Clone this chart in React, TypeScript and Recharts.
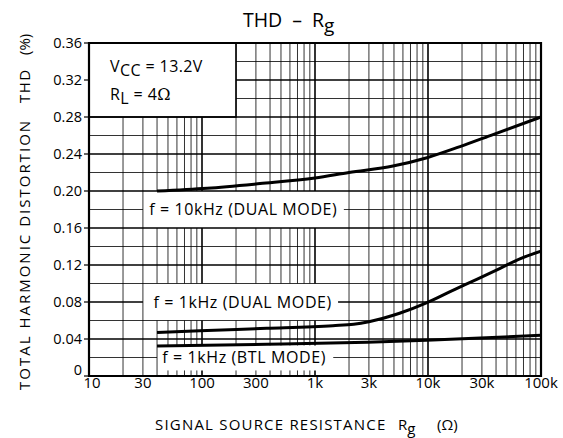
import React from 'react';
import { LineChart, Line, XAxis, YAxis, ReferenceLine, ReferenceArea, ReferenceDot } from 'recharts';

const X_TICKS = [10, 30, 100, 300, 1000, 3000, 10000, 30000, 100000];
const X_TICK_LABELS = ['10', '30', '100', '300', '1k', '3k', '10k', '30k', '100k'];
const Y_TICKS = [0, 0.04, 0.08, 0.12, 0.16, 0.2, 0.24, 0.28, 0.32, 0.36];
const Y_TICK_LABELS = ['0', '0.04', '0.08', '0.12', '0.16', '0.20', '0.24', '0.28', '0.32', '0.36'];

const RG_10K_DUAL = [40, 111, 326, 1000, 2000, 4900, 9800, 19200, 37600, 100000];
const THD_10K_DUAL = [0.2, 0.203, 0.208, 0.214, 0.22, 0.227, 0.236, 0.248, 0.261, 0.28];

const RG_1K_DUAL = [40, 96, 373, 1440, 2200, 3000, 5600, 9800, 15700, 27000, 43500, 65800, 100000];
const THD_1K_DUAL = [0.047, 0.049, 0.0515, 0.0544, 0.0559, 0.0587, 0.0678, 0.0793, 0.0912, 0.1045, 0.1164, 0.127, 0.135];

const RG_1K_BTL = [40, 373, 2900, 11000, 100000];
const THD_1K_BTL = [0.0324, 0.0342, 0.0364, 0.0389, 0.044];

const SERIES = [
  { name: 'f = 10kHz (DUAL MODE)', rg: RG_10K_DUAL, thd: THD_10K_DUAL, labelRg: 232, labelThd: 0.18 },
  { name: 'f = 1kHz (DUAL MODE)', rg: RG_1K_DUAL, thd: THD_1K_DUAL, labelRg: 229, labelThd: 0.08 },
  { name: 'f = 1kHz (BTL MODE)', rg: RG_1K_BTL, thd: THD_1K_BTL, labelRg: 236, labelThd: 0.02 },
];

const FONT = '"Open Sans", "DejaVu Sans", sans-serif';

// grid construction
const DECADES = [10, 100, 1000, 10000];
const MULTS = [1, 2, 3, 4, 5, 6, 7, 8, 9];
const V_GRID: number[] = [];
DECADES.forEach((d) => MULTS.forEach((m) => { const v = d * m; if (v > 10) V_GRID.push(v); }));
const H_GRID: number[] = [];
for (let k = 1; k <= 17; k++) H_GRID.push(Math.round(k * 2) / 100);

function vSpans(x: number): number[][] {
  if (x === 20 || x === 30) return [[0, 0.28]];
  if (x === 40) return [[0.2, 0.28], [0.1, 0.16], [0, 0.06]];
  if (x > 40 && x <= 100) return [[0.2, 0.28], [0.1, 0.16], [0.033, 0.06], [0, 0.006]];
  if (x >= 200 && x <= 1000) return [[0.2, 0.36], [0.1, 0.16], [0.033, 0.06], [0, 0.006]];
  return [[0, 0.36]];
}
function hSpans(y: number): number[][] {
  if (y > 0.285) return [[200, 100000]];
  if (Math.abs(y - 0.18) < 1e-6) return [[10, 30], [1800, 100000]];
  if (Math.abs(y - 0.08) < 1e-6) return [[10, 30], [1600, 100000]];
  if (Math.abs(y - 0.02) < 1e-6) return [[10, 40], [1450, 100000]];
  return [[10, 100000]];
}
const isDecade = (x: number) => x === 100 || x === 1000 || x === 10000;
const isMajorY = (y: number) => Math.abs(Math.round(y * 100) % 4) < 1e-6;

const renderLegend = (props: any) => {
  const vb = props.viewBox || {};
  const x = vb.x + 21;
  const y = vb.y;
  return (
    <g fontFamily={FONT} fill="#000">
      <text x={x} y={y + 29} fontSize={16} letterSpacing={0.4}>
        V<tspan dy={4}>CC</tspan><tspan dy={-4}> = 13.2V</tspan>
      </text>
      <text x={x} y={y + 57} fontSize={16} letterSpacing={0.4}>
        R<tspan dy={4}>L</tspan><tspan dy={-4}> = 4</tspan><tspan fontFamily='"DejaVu Serif", serif'>Ω</tspan>
      </text>
    </g>
  );
};

const makeCurveLabel = (text: string) => (props: any) => {
  const vb = props.viewBox || {};
  return (
    <text x={vb.x} y={vb.y} dy={5.5} textAnchor="middle" fontFamily={FONT} fontSize={16} letterSpacing={0.6} fill="#000">
      {text}
    </text>
  );
};

const YTick = (props: any) => {
  const { x, y, payload } = props;
  const i = Y_TICKS.indexOf(payload.value);
  const shift = payload.value === 0 ? -6 : 0;
  return (
    <text x={x} y={y + shift} dy={5} textAnchor="end" fontFamily={FONT} fontSize={14.5} fill="#000">
      {Y_TICK_LABELS[i]}
    </text>
  );
};

const XTick = (props: any) => {
  const { x, y, payload } = props;
  const i = X_TICKS.indexOf(payload.value);
  const shift = payload.value === 10 ? 3 : 0;
  return (
    <text x={x + shift} y={y} dy={11} textAnchor="middle" fontFamily={FONT} fontSize={15} fill="#000">
      {X_TICK_LABELS[i]}
    </text>
  );
};

export default function App() {
  const seriesData = SERIES.map((s) => s.rg.map((r, i) => ({ rg: r, thd: s.thd[i] })));
  return (
    <div style={{ position: 'absolute', left: 0, top: 0, width: 563, height: 438, background: '#fff' }}>
      <LineChart width={563} height={438} margin={{ top: 43, right: 22, bottom: 32, left: 49 }}>
        <XAxis
          type="number"
          dataKey="rg"
          scale="log"
          domain={[10, 100000]}
          ticks={X_TICKS}
          allowDataOverflow
          tickLine={false}
          tickSize={0}
          tickMargin={1}
          axisLine={false}
          height={30}
          tick={<XTick />}
          interval={0}
        />
        <YAxis
          type="number"
          dataKey="thd"
          domain={[0, 0.36]}
          ticks={Y_TICKS}
          allowDataOverflow
          width={40}
          tickSize={5}
          tickMargin={2}
          tickLine={{ stroke: '#000', strokeWidth: 1.2 }}
          axisLine={false}
          tick={<YTick />}
          interval={0}
        />
        {V_GRID.map((x) =>
          vSpans(x).map((sp, j) => (
            <ReferenceLine
              key={`v-${x}-${j}`}
              segment={[{ x, y: sp[0] }, { x, y: sp[1] }]}
              stroke="#000"
              strokeWidth={isDecade(x) ? 1.6 : 1}
              strokeOpacity={isDecade(x) ? 1 : 0.8}
              ifOverflow="visible"
            />
          ))
        )}
        {H_GRID.map((y) =>
          hSpans(y).map((sp, j) => (
            <ReferenceLine
              key={`h-${y}-${j}`}
              segment={[{ x: sp[0], y }, { x: sp[1], y }]}
              stroke="#000"
              strokeWidth={isMajorY(y) ? 1.6 : 1}
              strokeOpacity={isMajorY(y) ? 1 : 0.8}
              ifOverflow="visible"
            />
          ))
        )}
        <ReferenceArea
          x1={10}
          x2={200}
          y1={0.28}
          y2={0.36}
          fill="#fff"
          fillOpacity={1}
          stroke="#000"
          strokeWidth={1.5}
          ifOverflow="visible"
          label={renderLegend}
        />
        <ReferenceArea
          x1={10}
          x2={100000}
          y1={0}
          y2={0.36}
          fill="none"
          stroke="#000"
          strokeWidth={2.2}
          ifOverflow="visible"
        />
        {SERIES.map((s, i) => (
          <Line
            key={s.name}
            data={seriesData[i]}
            dataKey="thd"
            type="monotone"
            stroke="#000"
            strokeWidth={3}
            dot={false}
            activeDot={false}
            isAnimationActive={false}
          />
        ))}
        {SERIES.map((s) => (
          <ReferenceDot
            key={`lbl-${s.name}`}
            x={s.labelRg}
            y={s.labelThd}
            r={0}
            fill="none"
            stroke="none"
            ifOverflow="visible"
            label={makeCurveLabel(s.name)}
          />
        ))}
      </LineChart>
      <svg
        width={563}
        height={438}
        style={{ position: 'absolute', left: 0, top: 0, pointerEvents: 'none' }}
        fontFamily={FONT}
      >
        <text x={243} y={27} fontSize={19.5} fill="#000">
          THD<tspan dx={10}>–</tspan><tspan dx={10}>R</tspan><tspan dy={5} fontSize={19}>g</tspan>
        </text>
        <g transform="rotate(-90)" fill="#000" fontSize={15}>
          <text x={-390} y={30} letterSpacing={2}>TOTAL HARMONIC DISTORTION</text>
          <text x={-103} y={30} letterSpacing={1.5}>THD</text>
          <text x={-55} y={30}>(%)</text>
        </g>
        <g fill="#000" fontSize={15}>
          <text x={155} y={430} letterSpacing={1.2}>SIGNAL SOURCE RESISTANCE</text>
          <text x={398} y={430}>R<tspan dy={4}>g</tspan></text>
          <text x={437} y={430}>(Ω)</text>
        </g>
      </svg>
    </div>
  );
}
